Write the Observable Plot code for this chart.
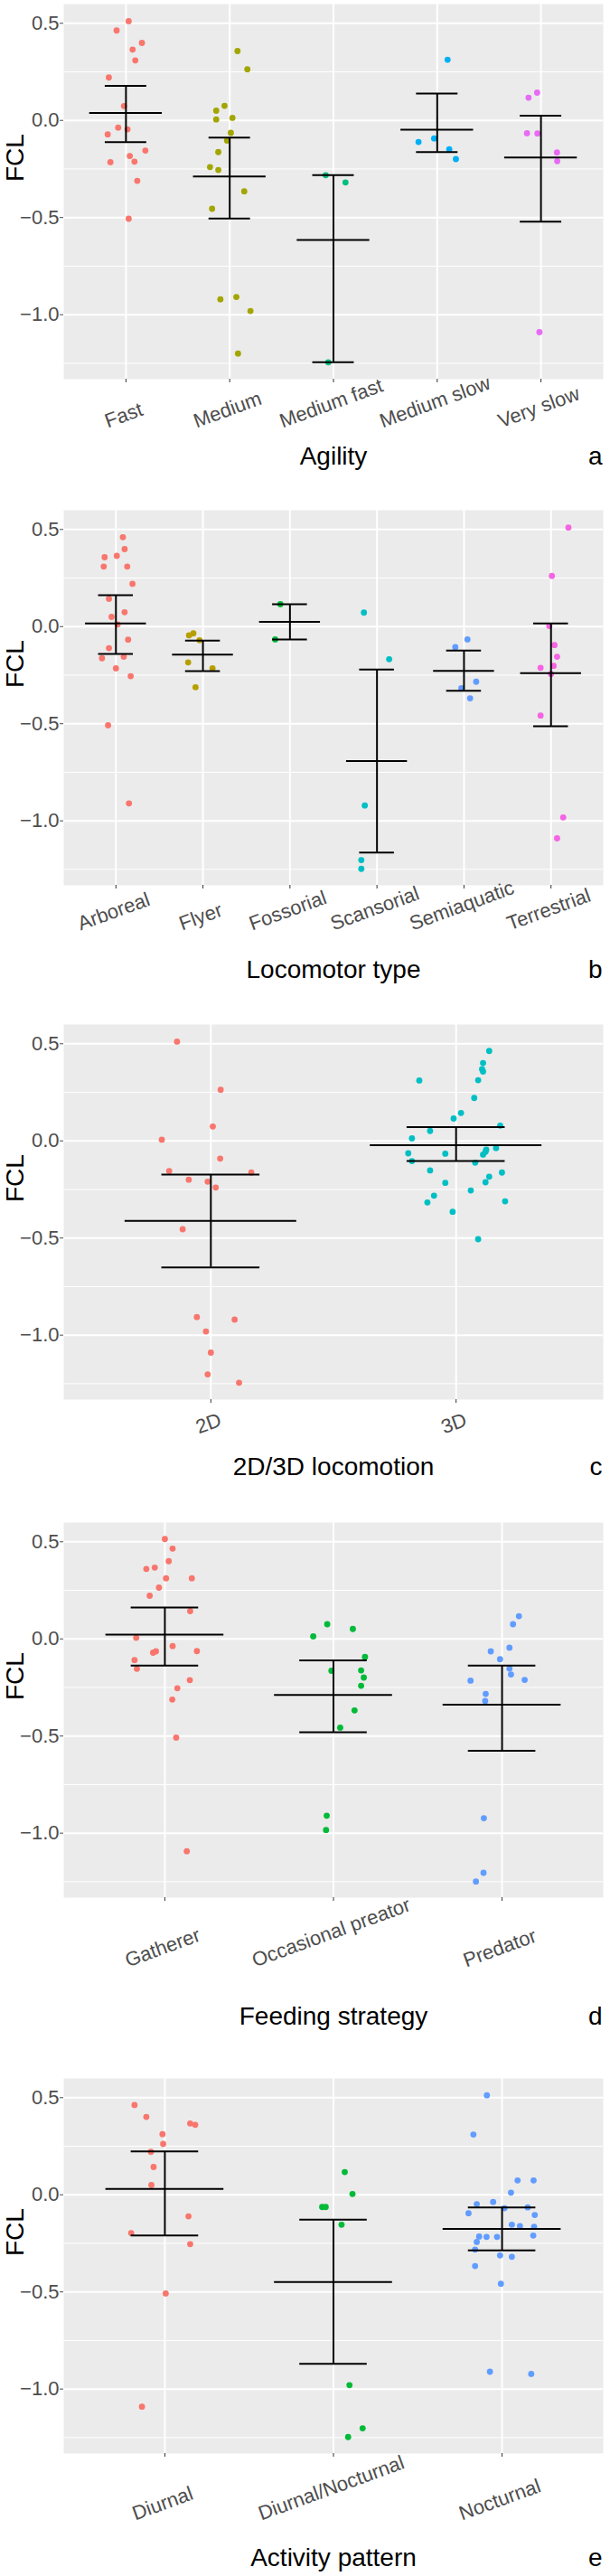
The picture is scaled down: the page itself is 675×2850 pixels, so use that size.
<!DOCTYPE html>
<html><head><meta charset="utf-8">
<script src="https://cdn.jsdelivr.net/npm/d3@7"></script>
<script src="https://cdn.jsdelivr.net/npm/@observablehq/plot@0.6"></script>
<style>
body{margin:0;background:#fff;}
#chart svg{display:block;}
</style></head><body><div id="chart"></div>
<script>
// ---------- shared ----------
const majorY = [0.5, 0, -0.5, -1];
const minorY = [0.25, -0.25, -0.75, -1.25];
const yDomain = [-1.332, 0.599];

// ---------- a: Agility ----------
const agilityCats = ["Fast", "Medium", "Medium fast", "Medium slow", "Very slow"];
const agilityColors = ["#F8766D", "#A3A500", "#00BF7D", "#00B0F6", "#E76BF3"];
const agilityValues = [
  [0.511,0.463,0.399,0.365,0.309,0.221,0.074,-0.037,-0.046,-0.072,-0.155,-0.183,-0.215,-0.212,-0.311,-0.506],
  [0.357,0.263,0.075,0.050,0.005,0.013,-0.064,-0.104,-0.163,-0.240,-0.255,-0.365,-0.455,-0.921,-0.909,-0.981,-1.200],
  [-0.282,-0.319,-1.245],
  [0.3125,-0.111,-0.093,-0.149,-0.199],
  [0.117,0.143,-0.066,-0.067,-0.165,-0.210,-1.090]
];
const agilityJitter = [
  [0.026,-0.09,0.154,0.064,0.09,-0.165,-0.019,-0.075,0.015,-0.176,0.187,0.037,-0.15,0.082,0.109,0.026],
  [0.075,0.17,-0.05,-0.13,-0.13,0.026,0.011,-0.026,-0.11,-0.19,-0.11,0.14,-0.17,-0.09,0.064,0.2,0.08],
  [-0.075,0.116,-0.05],
  [0.1,-0.18,-0.03,0.116,0.18],
  [-0.12,-0.037,-0.135,-0.034,0.154,0.157,-0.015]
];
const agilityMean = [0.038,-0.288,-0.615,-0.048,-0.191];
const agilityUpper = [0.178,-0.088,-0.282,0.138,0.024];
const agilityLower = [-0.112,-0.505,-1.245,-0.163,-0.521];

// ---------- b: Locomotor type ----------
const locoCats = ["Arboreal", "Flyer", "Fossorial", "Scansorial", "Semiaquatic", "Terrestrial"];
const locoColors = ["#F8766D", "#B79F00", "#00BA38", "#00BFC4", "#619CFF", "#F564E3"];
const locoValues = [
  [0.460,0.399,0.357,0.364,0.309,0.309,0.220,0.143,0.050,0.074,0.011,-0.067,-0.111,-0.163,-0.155,-0.215,-0.255,-0.508,-0.910],
  [-0.045,-0.035,-0.07,-0.184,-0.215,-0.3125],
  [0.115,-0.066],
  [0.072,-0.168,-0.921,-1.202,-1.247],
  [-0.066,-0.106,-0.284,-0.317,-0.369],
  [0.510,0.261,0.003,-0.095,-0.155,-0.212,-0.202,-0.244,-0.458,-0.982,-1.090]
];
const locoJitter = [
  [0.08,0.1,-0.13,0.01,-0.14,0.13,0.19,-0.08,-0.05,0.1,0.02,0.14,-0.08,-0.16,0.09,0.0,0.17,-0.09,0.15],
  [-0.16,-0.11,-0.04,-0.17,0.11,-0.085],
  [-0.11,-0.17],
  [-0.15,0.14,-0.14,-0.18,-0.18],
  [0.04,-0.1,0.14,-0.03,0.07],
  [0.2,0.01,-0.02,0.04,0.07,-0.12,0.03,0.0,-0.12,0.14,0.07]
];
const locoMean = [0.016,-0.144,0.024,-0.692,-0.228,-0.240];
const locoUpper = [0.162,-0.072,0.115,-0.221,-0.123,0.016];
const locoLower = [-0.141,-0.229,-0.066,-1.163,-0.330,-0.513];

// ---------- c: 2D/3D locomotion ----------
const dimCats = ["2D", "3D"];
const dimColors = ["#F8766D", "#00BFC4"];
const dimValues = [
  [0.511,0.263,0.074,0.006,-0.091,-0.155,-0.163,-0.2,-0.21,-0.24,-0.455,-0.907,-0.92,-0.981,-1.09,-1.202,-1.245],
  [0.463,0.401,0.369,0.357,0.311,0.3125,0.221,0.144,0.115,0.0785,0.051,0.013,-0.064,-0.066,-0.045,-0.056,-0.037,-0.0705,-0.104,-0.112,-0.152,-0.163,-0.184,-0.216,-0.213,-0.255,-0.282,-0.317,-0.311,-0.365,-0.506]
];
const dimJitter = [
  [-0.138,0.04,0.008,-0.2,0.038,-0.17,0.165,-0.09,-0.013,0.02,-0.115,-0.057,0.097,-0.02,0,-0.013,0.115],
  [0.135,0.11,0.106,0.11,-0.15,0.09,0.074,0.02,-0.01,0.18,-0.106,-0.18,-0.195,-0.044,0.123,0.12,0.163,0.11,-0.18,0.078,-0.106,0.187,0.135,-0.044,0.12,0.06,-0.09,-0.117,0.2,-0.014,0.09]
];
const dimMean = [-0.412,-0.022];
const dimUpper = [-0.173,0.0705];
const dimLower = [-0.651,-0.104];

// ---------- d: Feeding strategy ----------
const feedCats = ["Gatherer", "Occasional preator", "Predator"];
const feedColors = ["#F8766D", "#00BA38", "#619CFF"];
const feedValues = [
  [0.514,0.465,0.400,0.360,0.367,0.312,0.312,0.264,0.222,0.143,0.006,-0.037,-0.064,-0.071,-0.063,-0.109,-0.154,-0.212,-0.254,-0.312,-0.508,-1.093],
  [0.0756,0.051,0.013,-0.093,-0.164,-0.162,-0.199,-0.241,-0.368,-0.457,-0.910,-0.984],
  [0.117,0.0756,-0.045,-0.064,-0.1045,-0.153,-0.183,-0.211,-0.215,-0.283,-0.320,-0.923,-1.204,-1.249]
];
const feedJitter = [
  [0,0.046,0.023,-0.11,-0.06,0.007,0.16,-0.035,-0.09,0.15,-0.17,0.046,-0.053,-0.07,0.19,-0.18,-0.166,0.148,0.074,0.044,0.067,0.13],
  [-0.037,0.115,-0.12,0.187,-0.012,0.164,0.18,0.164,0.125,0.04,-0.04,-0.044],
  [0.1,0.065,0.044,-0.067,-0.012,0.044,0.053,0.134,-0.187,-0.097,-0.1,-0.108,-0.11,-0.155]
];
const feedMean = [0.0225,-0.288,-0.339];
const feedUpper = [0.162,-0.111,-0.137];
const feedLower = [-0.137,-0.481,-0.576];

// ---------- e: Activity pattern ----------
const actCats = ["Diurnal", "Diurnal/Nocturnal", "Nocturnal"];
const actColors = ["#F8766D", "#00BA38", "#619CFF"];
const actValues = [
  [0.462,0.401,0.367,0.360,0.312,0.262,0.221,0.143,0.050,-0.111,-0.197,-0.254,-0.508,-1.091],
  [0.117,0.004,-0.063,-0.063,-0.154,-0.980,-1.202,-1.247],
  [0.512,0.310,0.074,0.074,0.011,-0.048,-0.037,-0.069,-0.065,-0.095,-0.104,-0.154,-0.161,-0.165,-0.215,-0.217,-0.217,-0.210,-0.243,-0.282,-0.312,-0.319,-0.367,-0.458,-0.911,-0.922]
];
const actJitter = [
  [-0.18,-0.11,0.15,0.18,-0.014,-0.01,-0.083,-0.067,-0.08,0.14,-0.2,0.15,0.005,-0.136],
  [0.067,0.113,-0.067,-0.046,0.048,0.095,0.173,0.087],
  [-0.09,-0.17,0.092,0.187,0.053,-0.15,-0.053,0.014,0.152,-0.199,0.194,0.058,0.106,0.19,-0.136,-0.092,-0.03,0.185,-0.15,-0.16,-0.012,0.058,-0.16,-0.007,-0.072,0.173]
];
const actMean = [0.030,-0.449,-0.176];
const actUpper = [0.223,-0.128,-0.065];
const actLower = [-0.210,-0.870,-0.286];

// ---------- drawing ----------
const FONT = '"Liberation Sans", Arial, Helvetica, sans-serif';
const W = 675, ML = 70, MR = 8, PH = 415;
const ANGLE = 20;
const ctx = document.createElement("canvas").getContext("2d");
ctx.font = `22px ${FONT}`;

function panel(p) {
  const n = p.cats.length;
  const idx = d3.range(n);
  const points = [];
  p.values.forEach((vals, g) => vals.forEach((v, k) => points.push({cat: p.cats[g], x: g + p.jitter[g][k], y: v})));
  const stats = p.cats.map((c, i) => ({i, mean: p.mean[i], lo: p.lower[i], hi: p.upper[i]}));
  const pxPerUnit = (W - ML - MR) / (n + 0.2);
  const cos = Math.cos(ANGLE * Math.PI / 180);
  const labels = p.cats.map((c, i) => ({text: c, x: i - ctx.measureText(c).width / 2 * cos / pxPerUnit}));
  const bar = {stroke: "black", strokeWidth: 2};
  return Plot.plot({
    width: W, height: p.mt + PH + p.mb,
    marginTop: p.mt, marginBottom: p.mb, marginLeft: ML, marginRight: MR,
    style: {fontFamily: FONT, background: "white", overflow: "visible"},
    x: {domain: [-0.6, n - 0.4]},
    y: {domain: yDomain},
    color: {domain: p.cats, range: p.colors},
    marks: [
      Plot.frame({fill: "#EBEBEB", stroke: null}),
      Plot.ruleY(minorY, {stroke: "white", strokeWidth: 1}),
      Plot.ruleY(majorY, {stroke: "white", strokeWidth: 2}),
      Plot.ruleX(idx, {stroke: "white", strokeWidth: 2}),
      Plot.axisY({ticks: majorY, tickFormat: d3.format(".1f"), tickSize: 4, tickPadding: 1, fontSize: 22, color: "#4D4D4D", label: null}),
      Plot.axisX({ticks: idx, tickFormat: () => "", tickSize: 4, tickPadding: 0, color: "#333333", label: null}),
      Plot.dot(points, {x: "x", y: "y", fill: "cat", r: 3.4}),
      Plot.ruleX(stats, {x: "i", y1: "lo", y2: "hi", ...bar}),
      Plot.ruleY(stats, {y: "hi", x1: d => d.i - 0.2, x2: d => d.i + 0.2, ...bar}),
      Plot.ruleY(stats, {y: "lo", x1: d => d.i - 0.2, x2: d => d.i + 0.2, ...bar}),
      Plot.ruleY(stats, {y: "mean", x1: d => d.i - 0.35, x2: d => d.i + 0.35, ...bar}),
      Plot.text(labels, {x: "x", text: "text", frameAnchor: "bottom", dy: p.labelDy, rotate: -ANGLE, textAnchor: "start", lineAnchor: "bottom", fontSize: 22, fill: "#4D4D4D"}),
      Plot.text([p.title], {frameAnchor: "bottom", dy: p.titleDy, lineAnchor: "bottom", fontSize: 28, fill: "black"}),
      Plot.text([p.letter], {frameAnchor: "bottom-right", dx: -1, dy: p.titleDy, textAnchor: "end", lineAnchor: "bottom", fontSize: 28, fill: "black"}),
      Plot.text(["FCL"], {frameAnchor: "left", dx: -45, dy: -11, rotate: -90, lineAnchor: "bottom", fontSize: 28, fill: "black"})
    ]
  });
}

const panels = [
  {cats: agilityCats, colors: agilityColors, values: agilityValues, jitter: agilityJitter, mean: agilityMean, upper: agilityUpper, lower: agilityLower,
   title: "Agility", letter: "a", mt: 4, mb: 126, labelDy: 54, titleDy: 94},
  {cats: locoCats, colors: locoColors, values: locoValues, jitter: locoJitter, mean: locoMean, upper: locoUpper, lower: locoLower,
   title: "Locomotor type", letter: "b", mt: 19, mb: 121, labelDy: 50, titleDy: 102},
  {cats: dimCats, colors: dimColors, values: dimValues, jitter: dimJitter, mean: dimMean, upper: dimUpper, lower: dimLower,
   title: "2D/3D locomotion", letter: "c", mt: 33, mb: 102, labelDy: 38, titleDy: 83},
  {cats: feedCats, colors: feedColors, values: feedValues, jitter: feedJitter, mean: feedMean, upper: feedUpper, lower: feedLower,
   title: "Feeding strategy", letter: "d", mt: 34, mb: 161, labelDy: 77, titleDy: 140},
  {cats: actCats, colors: actColors, values: actValues, jitter: actJitter, mean: actMean, upper: actUpper, lower: actLower,
   title: "Activity pattern", letter: "e", mt: 39, mb: 136, labelDy: 74, titleDy: 124}
];

const root = document.getElementById("chart");
for (const p of panels) root.appendChild(panel(p));
</script>
</body></html>
